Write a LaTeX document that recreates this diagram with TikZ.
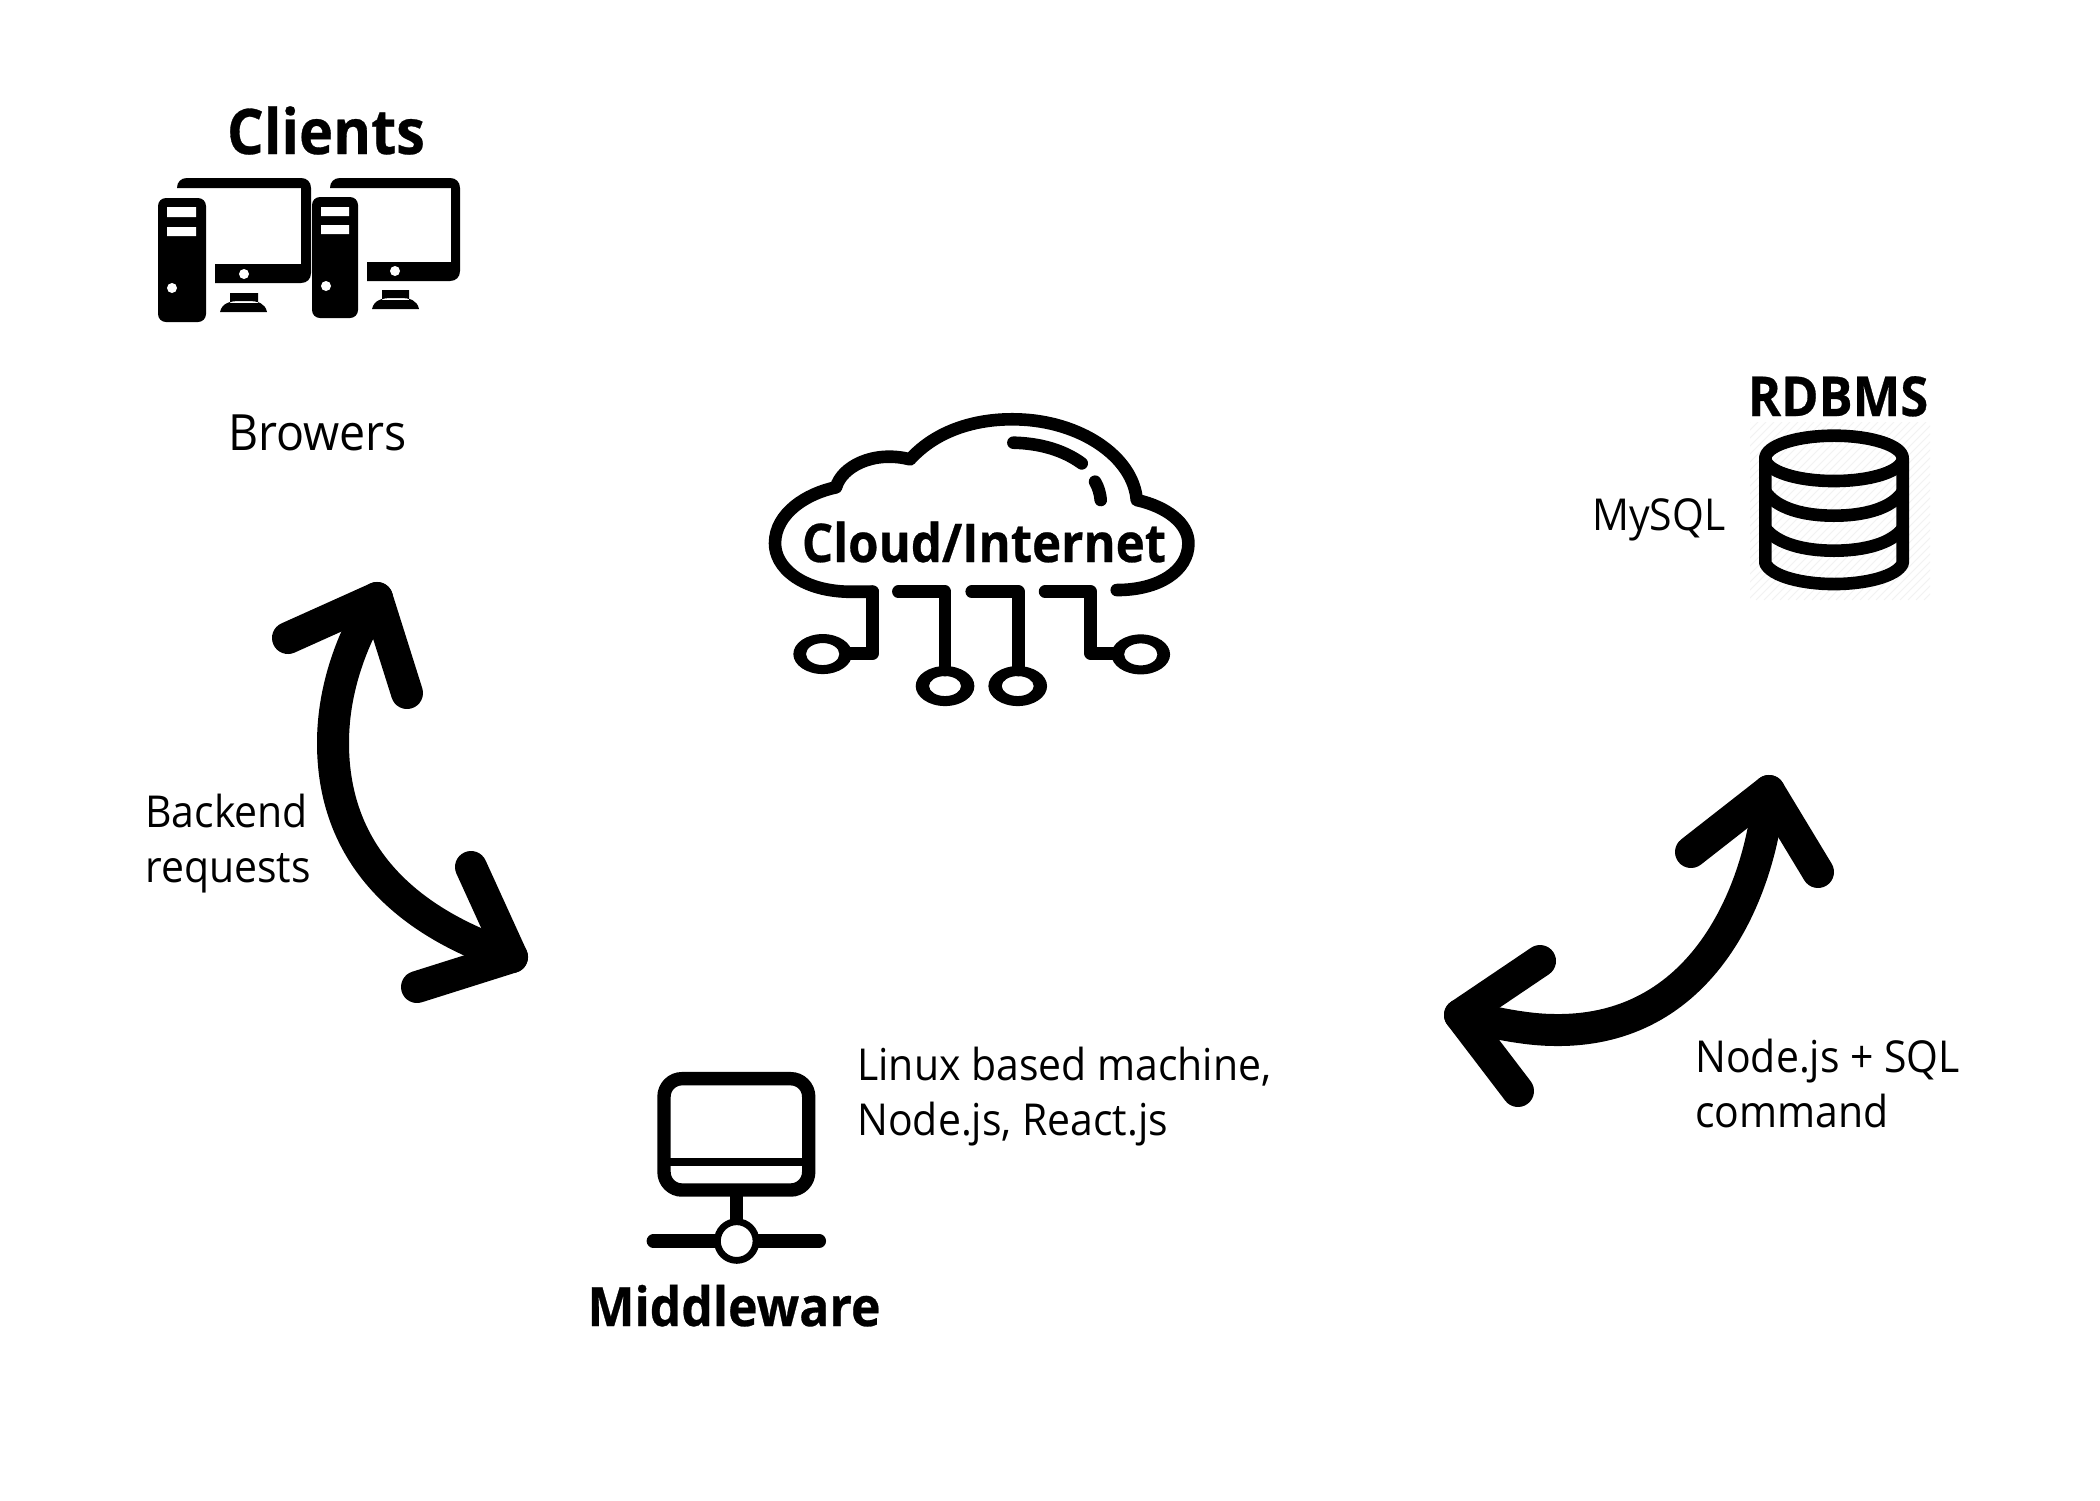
\documentclass[tikz,border=0pt]{standalone}
\usepackage{fontspec}
\setmainfont{Open Sans}
\newfontfamily\lab{Open Sans}[FakeStretch=0.93]
\newfontfamily\hd{Open Sans}[FakeStretch=0.92,BoldFeatures={FakeBold=0.5}]
\tikzset{
 lbl/.style={inner sep=0pt,anchor=base west,align=left,font=\lab\fontsize{22}{27.5}\selectfont},
 ttl/.style={inner sep=0pt,anchor=base,font=\hd\bfseries\fontsize{27}{30}\selectfont},
 ico/.style={line width=6.3pt,line cap=round,line join=round},
 arr/.style={line width=16pt,line cap=round,line join=round}
}
\begin{document}
\begin{tikzpicture}[x=0.5pt,y=-0.5pt]
\useasboundingbox (0,0) rectangle (2100,1500);
\fill[white] (0,0) rectangle (2100,1500);
% clients
\node[ttl,font=\hd\bfseries\fontsize{31.4}{34}\selectfont] (clients) at (326,154) {Clients};
\fill (177,188) .. controls (177,182) and (181,178) .. (187,178) -- (301,178) .. controls (307,178) and (311,182) .. (311,188) -- (311,273) .. controls (311,279) and (307,283) .. (301,283) -- (215,283) -- (215,264) -- (301,264) -- (301,188) -- cycle;
\fill[rounded corners=4pt] (158,198) rectangle (206,322);
\fill[white] (167,207) rectangle (196,217) (167,227) rectangle (196,236) (172,288) circle (5) (244,274) circle (5);
\fill (230,293) rectangle (258,303) (220,312) .. controls (222,303) and (230,301) .. (240,301) -- (248,301) .. controls (258,301) and (265,303) .. (267,312) -- cycle;
\fill (330,188) .. controls (330,182) and (334,178) .. (340,178) -- (450,178) .. controls (456,178) and (460,182) .. (460,188) -- (460,271) .. controls (460,277) and (456,281) .. (450,281) -- (367,281) -- (367,262) -- (451,262) -- (451,188) -- cycle;
\fill[rounded corners=4pt] (312,197) rectangle (358,318);
\fill[white] (321,207) rectangle (349,216) (321,225) rectangle (349,234) (326,286) circle (5) (395,271) circle (5);
\fill (382,290) rectangle (409,300) (372,309) .. controls (374,300) and (382,298) .. (392,298) -- (400,298) .. controls (410,298) and (417,300) .. (419,309) -- cycle;
\node[lbl,font=\lab\fontsize{25}{30}\selectfont] (brow) at (228,450) {Browers};
% cloud
\begin{scope}[shift={(750,400)},x=0.1667pt,y=-0.1667pt]
\draw[ico] (368,575) -- (290,575) .. controls (150,570) and (75,500) .. (75,430) .. controls (75,340) and (170,280) .. (258,262) .. controls (275,200) and (370,150) .. (480,178) .. controls (560,90) and (680,55) .. (800,58) .. controls (990,62) and (1150,170) .. (1160,300) .. controls (1250,320) and (1315,370) .. (1315,430) .. controls (1315,510) and (1230,570) .. (1100,570);
\draw[ico] (368,575) -- (368,760) -- (300,760);
\draw[ico] (445,575) -- (585,575) -- (585,810);
\draw[ico] (665,575) -- (805,575) -- (805,810);
\draw[ico] (885,575) -- (1022,575) -- (1022,760) -- (1095,760);
\fill[even odd rule] (218,762) ellipse (88 and 60) (218,762) ellipse (50 and 33);
\fill[even odd rule] (585,858) ellipse (88 and 60) (585,858) ellipse (48 and 30);
\fill[even odd rule] (803,858) ellipse (88 and 60) (803,858) ellipse (48 and 30);
\fill[even odd rule] (1172,763) ellipse (88 and 60) (1172,763) ellipse (50 and 33);
\draw[ico] (790,128) .. controls (870,130) and (940,150) .. (995,190);
\draw[ico] (1035,245) .. controls (1045,262) and (1050,280) .. (1052,300);
\end{scope}
\node[ttl,font=\hd\bfseries\fontsize{26.7}{30}\selectfont] (cloud) at (984,562) {Cloud/Internet};
% rdbms
\begin{scope}
\clip (1750,422) rectangle (1930,600);
\foreach \k in {0,8,...,360} {\draw[black!5,line width=0.5pt] (1750+\k,422) -- (1750+\k-178,600);}
\end{scope}
\node[ttl,font=\hd\bfseries\fontsize{27.5}{30}\selectfont] (rdbms) at (1838,416) {RDBMS};
\node[lbl] (mysql) at (1592,530) {MySQL};
\begin{scope}[shift={(1700,360)},x=0.1667pt,y=-0.1667pt]
\draw[ico] (402,295) ellipse (206 and 68);
\draw[ico] (196,295) -- (196,610) .. controls (215,650) and (310,672) .. (402,672) .. controls (494,672) and (590,650) .. (608,610) -- (608,295);
\draw[ico] (196,395) .. controls (230,445) and (310,467) .. (402,467) .. controls (494,467) and (575,445) .. (608,395);
\draw[ico] (196,505) .. controls (230,550) and (310,572) .. (402,572) .. controls (494,572) and (575,550) .. (608,505);
\end{scope}
% middleware
\begin{scope}[shift={(630,1050)},x=0.1667pt,y=-0.1667pt]
\draw[line width=6.7pt,rounded corners=9pt] (102,86) rectangle (536,420);
\fill (102,325) rectangle (536,348);
\draw[line width=6.7pt] (320,420) -- (320,520);
\draw[line width=6.7pt,line cap=round] (70,573) -- (568,573);
\draw[line width=3.4pt,fill=white] (320,573) circle (58);
\end{scope}
\node[ttl,font=\hd\bfseries\fontsize{27.1}{30}\selectfont] (mw) at (734,1326) {Middleware};
\node[lbl] (linux) at (857,1135) {Linux based machine,\\Node.js, React.js};
% arrows
\coordinate (a1) at (377,598); \coordinate (a2) at (512,957);
\coordinate (b1) at (1769,791); \coordinate (b2) at (1460,1015);
\draw[arr] (a1) .. controls (345,650) and (333,700) .. (333,743) .. controls (333,850) and (400,920) .. (a2);
\draw[arr] (288,638) -- (a1) -- (407,693);
\draw[arr] (471,867) -- (a2) -- (417,987);
\draw[arr] (b1) .. controls (1762,880) and (1710,1032) .. (1555,1030) .. controls (1525,1030) and (1490,1022) .. (b2);
\draw[arr] (1691,852) -- (b1) -- (1818,872);
\draw[arr] (1540,961) -- (b2) -- (1518,1091);
\node[lbl] (back) at (145,882) {Backend\\requests};
\node[lbl] (node) at (1695,1127) {Node.js + SQL\\command};
\end{tikzpicture}
\end{document}
